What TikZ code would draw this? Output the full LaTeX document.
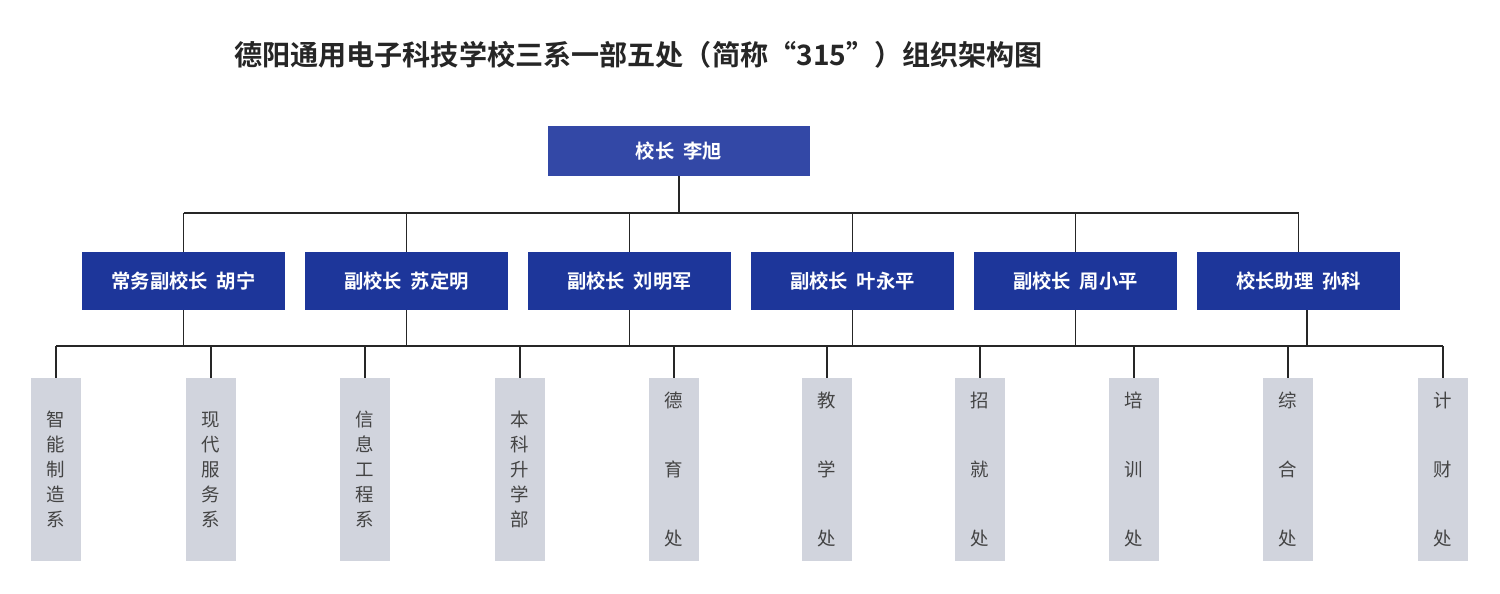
\documentclass[tikz,border=0pt]{standalone}
\usepackage{fontspec}
\newfontfamily\cjk{Noto Sans CJK SC}
\newfontfamily\cjkb{Noto Sans CJK SC Bold}
\definecolor{topblue}{HTML}{3348A6}
\definecolor{midblue}{HTML}{1D369A}
\definecolor{greybox}{HTML}{D1D4DD}
\definecolor{greytext}{HTML}{444444}
\begin{document}
\begin{tikzpicture}[x=0.02cm,y=-0.02cm,
  topbox/.style={fill=topblue,text=white,font=\cjkb\fontsize{11}{13}\selectfont,minimum width=5.24cm,minimum height=1cm,inner sep=0pt},
  midbox/.style={fill=midblue,text=white,font=\cjkb\fontsize{11}{13}\selectfont,minimum width=4.06cm,minimum height=1.16cm,inner sep=0pt},
  lowbox/.style={fill=greybox,text=greytext,font=\cjk\fontsize{10.5}{14.2}\selectfont,minimum width=1cm,minimum height=3.66cm,inner sep=0pt,align=center},
  conn/.style={draw=black!85,line width=0.9pt}]
\useasboundingbox (0,0) rectangle (1500,593);
\node[font=\cjkb\fontsize{16}{19}\selectfont,text=black!85,anchor=west] (title) at (228,55) {德阳通用电子科技学校三系一部五处（简称“315”）组织架构图};
\node[topbox] (top) at (679,151) {校长\ \ 李旭};
\foreach \n/\x/\t in {m1/183.5/常务副校长\ \ 胡宁, m2/406.5/副校长\ \ 苏定明, m3/629.5/副校长\ \ 刘明军, m4/852.5/副校长\ \ 叶永平, m5/1075.5/副校长\ \ 周小平, m6/1298.5/校长助理\ \ 孙科}
  \node[midbox] (\n) at (\x,281) {\t};
\coordinate (h1) at (679,213);
\draw[conn] (top.south) -- (h1);
\draw[conn] (183.5,213) -- (1298.5,213);
\foreach \n in {m1,m2,m3,m4,m5,m6} \draw[conn] (\n.north) -- (\n.north |- h1);
\coordinate (h2) at (0,346);
\foreach \n in {m1,m2,m3,m4,m5} \draw[conn] (\n.south) -- (\n.south |- h2);
\draw[conn] (1307,310) -- (1307,346);
\draw[conn] (56,346) -- (1443,346);
\foreach \n/\x/\t in {b1/56/智\\能\\制\\造\\系, b2/211/现\\代\\服\\务\\系, b3/365/信\\息\\工\\程\\系, b4/520/本\\科\\升\\学\\部,
  b5/674/德\\[0.88cm]育\\[0.88cm]处, b6/827/教\\[0.88cm]学\\[0.88cm]处, b7/980/招\\[0.88cm]就\\[0.88cm]处, b8/1134/培\\[0.88cm]训\\[0.88cm]处, b9/1288/综\\[0.88cm]合\\[0.88cm]处, b10/1443/计\\[0.88cm]财\\[0.88cm]处}
{ \node[lowbox] (\n) at (\x,469.5) {\t};
  \draw[conn] (\n.north) -- (\n.north |- h2); }
\end{tikzpicture}
\end{document}
